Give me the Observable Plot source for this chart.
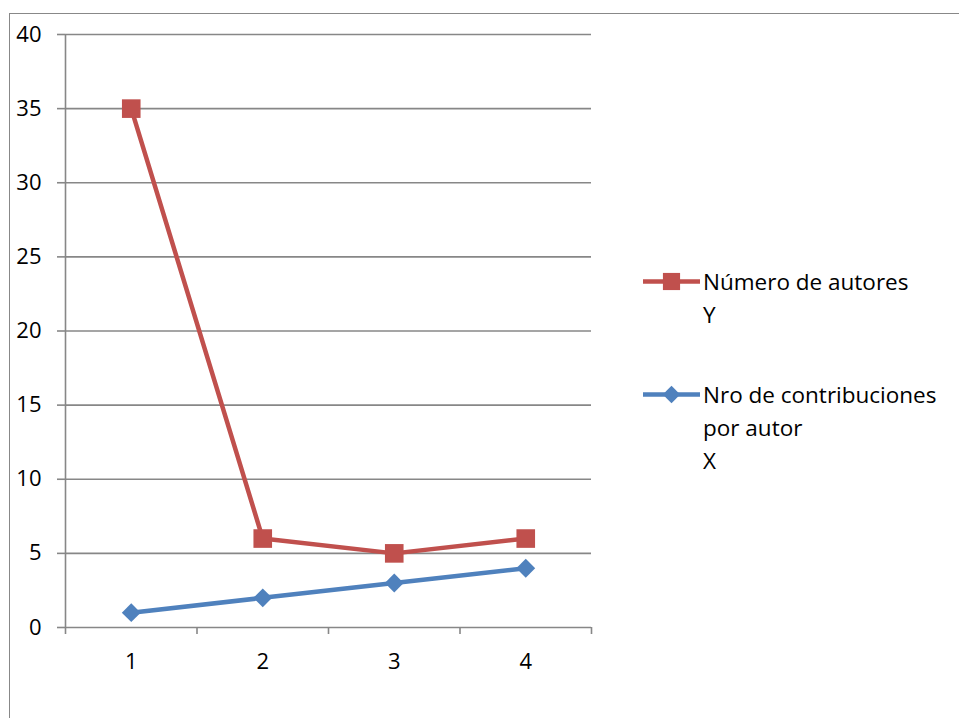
<!DOCTYPE html>
<html>
<head>
<meta charset="utf-8">
<script src="https://cdn.jsdelivr.net/npm/d3@7"></script>
<script src="https://cdn.jsdelivr.net/npm/@observablehq/plot@0.6"></script>
<style>
  html, body { margin: 0; padding: 0; background: #fff; overflow: hidden; }
  #wrap { position: relative; width: 959px; height: 718px; font-family: "Open Sans", sans-serif; }
  #frame { position: absolute; left: 9px; top: 13px; width: 1000px; height: 800px; border-left: 1.5px solid #888; border-top: 1.5px solid #888; pointer-events: none; }
  .legend { position: absolute; left: 643px; font-size: 22.5px; color: #000; display: flex; align-items: flex-start; line-height: 33px; }
  .legend svg { flex: none; }
  .legend .txt { margin-left: 3px; white-space: nowrap; }
</style>
</head>
<body>
<div id="wrap">
  <div id="chart"></div>
  <div id="frame"></div>
</div>
<script>
const categories = [1, 2, 3, 4];
const autores = [35, 6, 5, 6];
const contribuciones = [1, 2, 3, 4];
const yTicks = [0, 5, 10, 15, 20, 25, 30, 35, 40];
const xBounds = [0.5, 1.5, 2.5, 3.5, 4.5];

const series = [
  {name: "Número de autores\nY", values: autores, color: "#C0504D", symbol: "square", r: 10.5},
  {name: "Nro de contribuciones\npor autor\nX", values: contribuciones, color: "#4F81BD", symbol: "diamond2", r: 8.5}
];

const gridColor = "#878787";
const rows = s => categories.map((c, i) => ({x: c, y: s.values[i]}));

const marks = [
  Plot.gridY({ticks: yTicks, stroke: gridColor, strokeOpacity: 1, strokeWidth: 1.6}),
  Plot.axisY({ticks: yTicks, label: null, tickSize: 8, tickPadding: 16, stroke: gridColor, strokeWidth: 1.6, fill: "#000", fontSize: 22}),
  Plot.ruleX([0.5], {stroke: gridColor, strokeWidth: 1.6}),
  Plot.axisX({ticks: xBounds, label: null, tickSize: 7, tickFormat: () => "", stroke: gridColor, strokeWidth: 1.6}),
  Plot.axisX({ticks: categories, label: null, tickSize: 0, tickPadding: 26, fill: "#000", fontSize: 22, tickFormat: d => String(d)})
];
// blue first then red on top
for (const s of [series[1], series[0]]) {
  marks.push(Plot.line(rows(s), {x: "x", y: "y", stroke: s.color, strokeWidth: 4.5}));
  marks.push(Plot.dot(rows(s), {x: "x", y: "y", fill: s.color, stroke: "none", symbol: s.symbol, r: s.r}));
}

const chart = Plot.plot({
  width: 959,
  height: 718,
  marginTop: 34,
  marginLeft: 65,
  marginRight: 368,
  marginBottom: 91,
  style: {fontFamily: "Open Sans, sans-serif", color: "#000", background: "#fff"},
  x: {type: "linear", domain: [0.5, 4.5], axis: null},
  y: {type: "linear", domain: [0, 40], axis: null},
  marks
});
document.getElementById("chart").appendChild(chart);

// legend (HTML)
const wrap = document.getElementById("wrap");
const tops = [265, 378];
series.forEach((s, i) => {
  const div = document.createElement("div");
  div.className = "legend";
  div.style.top = tops[i] + "px";
  const ns = "http://www.w3.org/2000/svg";
  const svg = document.createElementNS(ns, "svg");
  svg.setAttribute("width", 57); svg.setAttribute("height", 33);
  const line = document.createElementNS(ns, "line");
  line.setAttribute("x1", 0); line.setAttribute("x2", 57);
  line.setAttribute("y1", 16.5); line.setAttribute("y2", 16.5);
  line.setAttribute("stroke", s.color); line.setAttribute("stroke-width", 4.5);
  line.setAttribute("stroke-linecap", "round");
  svg.appendChild(line);
  const path = document.createElementNS(ns, "path");
  const sym = s.symbol === "square" ? d3.symbolSquare : d3.symbolDiamond2;
  path.setAttribute("d", d3.symbol(sym, s.r * s.r * Math.PI * 0.85)());
  path.setAttribute("transform", "translate(28.5,16.5)");
  path.setAttribute("fill", s.color);
  svg.appendChild(path);
  div.appendChild(svg);
  const txt = document.createElement("div");
  txt.className = "txt";
  txt.innerHTML = s.name.split("\n").join("<br>");
  div.appendChild(txt);
  wrap.appendChild(div);
});
</script>
</body>
</html>
